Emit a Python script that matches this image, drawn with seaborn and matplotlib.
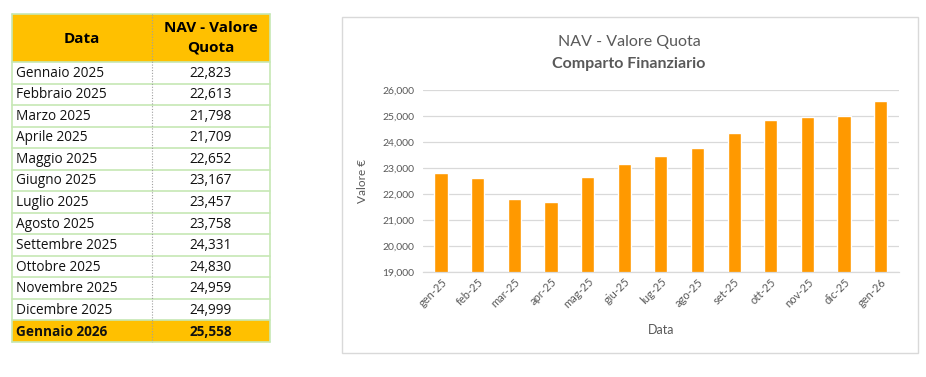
import matplotlib
matplotlib.use("Agg")
import matplotlib.pyplot as plt
import matplotlib.patches as mpatches
import matplotlib.ticker as mticker
import seaborn as sns
import pandas as pd

# ---- data ----
mesi_tabella = ["Gennaio 2025", "Febbraio 2025", "Marzo 2025", "Aprile 2025", "Maggio 2025",
                "Giugno 2025", "Luglio 2025", "Agosto 2025", "Settembre 2025", "Ottobre 2025",
                "Novembre 2025", "Dicembre 2025", "Gennaio 2026"]
etichette_x = ["gen-25", "feb-25", "mar-25", "apr-25", "mag-25", "giu-25", "lug-25",
               "ago-25", "set-25", "ott-25", "nov-25", "dic-25", "gen-26"]
valori = [22823, 22613, 21798, 21709, 22652, 23167, 23457, 23758, 24331, 24830, 24959, 24999, 25558]
y_ticks = [19000, 20000, 21000, 22000, 23000, 24000, 25000, 26000]

sns.set_theme(style="white")
plt.rcParams['font.family'] = ['Lato', 'DejaVu Sans']

W, H = 926, 377
fig = plt.figure(figsize=(W / 100, H / 100), dpi=100)
fig.patch.set_facecolor("white")

def fx(px):
    return px / W

def fy(py):
    return 1 - py / H

# ---- table ----
tab = fig.add_axes([0, 0, 1, 1])
tab.set_xlim(0, W)
tab.set_ylim(H, 0)
tab.axis("off")

tfont = ['Open Sans', 'DejaVu Sans']
x0, x1, x2 = 12, 152, 270
top, head_b = 14, 62
row_h = (342 - head_b) / len(mesi_tabella)
orange = "#FFC000"
green = "#C6E8B4"

tab.add_patch(mpatches.Rectangle((x0, top), x2 - x0, head_b - top, facecolor=orange, edgecolor="none"))
tab.text((x0 + x1) / 2, (top + head_b) / 2 + 1, "Data", ha="center", va="center",
         fontsize=11, fontweight="bold", color="black", family=tfont)
tab.text((x1 + x2) / 2, (top + head_b) / 2, "NAV - Valore\nQuota", ha="center", va="center",
         fontsize=11, fontweight="bold", color="black", linespacing=1.5, family=tfont)

for i, (m, v) in enumerate(zip(mesi_tabella, valori)):
    yt = head_b + i * row_h
    last = i == len(mesi_tabella) - 1
    if last:
        tab.add_patch(mpatches.Rectangle((x0, yt), x2 - x0, row_h, facecolor=orange, edgecolor="none"))
    fw = "bold" if last else "normal"
    tab.text(x0 + 4, yt + row_h / 2 + 0.5, m, ha="left", va="center", fontsize=9.8,
             fontweight=fw, color="#111111", family=tfont)
    tab.text((x1 + x2) / 2, yt + row_h / 2 + 0.5, f"{v:,}", ha="center", va="center",
             fontsize=9.8, fontweight=fw, color="#111111", family=tfont)
    tab.plot([x0, x2], [yt + row_h, yt + row_h], color=green, lw=1.2)

tab.plot([x0, x2], [top, top], color=green, lw=1.2)
tab.plot([x0, x2], [head_b, head_b], color=green, lw=1.2)
tab.plot([x0, x0], [top, 342], color=green, lw=1.2)
tab.plot([x2, x2], [top, 342], color=green, lw=1.2)
tab.plot([x1, x1], [top, 342], color="#A0A0A0", lw=0.8, ls=(0, (1, 1.5)))

# chart border
tab.add_patch(mpatches.Rectangle((342, 17), 918 - 342, 353 - 17, facecolor="none",
                                 edgecolor="#D9D9D9", lw=1.0))

# ---- chart ----
ax = fig.add_axes([fx(422.7), fy(272), fx(899) - fx(422.7), fy(90) - fy(272)])
df = pd.DataFrame({"Data": etichette_x, "Valore": valori})
sns.barplot(data=df, x="Data", y="Valore", color="#FF9900", saturation=1, width=0.36, ax=ax)
ax.set_ylim(y_ticks[0], y_ticks[-1])
ax.set_yticks(y_ticks)
ax.yaxis.set_major_formatter(mticker.FuncFormatter(lambda v, p: f"{int(v):,}"))
ax.grid(axis="y", color="#D9D9D9", lw=0.9)
ax.set_axisbelow(True)
for s in ["top", "right", "left"]:
    ax.spines[s].set_visible(False)
ax.spines["bottom"].set_color("#D9D9D9")
ax.spines["bottom"].set_linewidth(0.9)
ax.tick_params(axis="y", labelsize=7.5, colors="#595959", length=0, pad=6)
ax.tick_params(axis="x", labelsize=8, colors="#595959", length=0, pad=3)
for lab in ax.get_xticklabels():
    lab.set_rotation(45)
    lab.set_ha("right")
    lab.set_rotation_mode("anchor")
ax.set_xlabel("Data", fontsize=9, color="#595959", labelpad=10)
ax.set_ylabel("Valore €", fontsize=8.5, color="#595959", labelpad=10)

fig.text(fx(629), fy(42), "NAV - Valore Quota", ha="center", va="center", fontsize=11.5, color="#595959")
fig.text(fx(629), fy(64), "Comparto Finanziario", ha="center", va="center", fontsize=11.5,
         fontweight="bold", color="#595959")

fig.savefig("out.png", dpi=100, facecolor="white")
